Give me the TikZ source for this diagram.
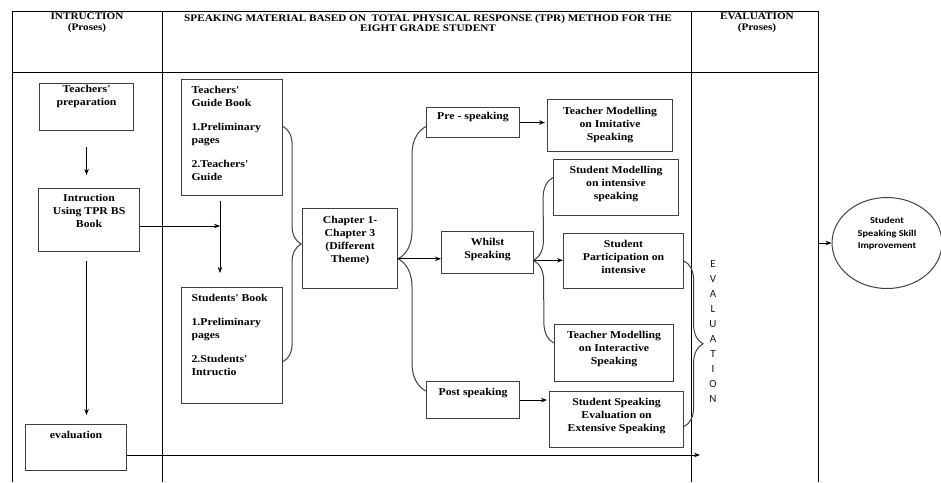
\documentclass[tikz,border=0pt]{standalone}
\usepackage{fontspec}
\usetikzlibrary{arrows.meta,shapes.geometric,decorations.pathreplacing,calc}
\newfontfamily\bodyfont{Liberation Serif}[FakeStretch=1.12]
\newfontfamily\calfont{Carlito}[FakeStretch=1.15]
\newfontfamily\letterfont{Carlito}
\newcommand{\boxtxt}[4][7pt]{\parbox[t][#3][t]{#2}{\centering\vspace*{#1}#4}}

\begin{document}
\begin{tikzpicture}[x=1pt, y=-1pt, >={Stealth[length=6pt,width=4.5pt]},
  box/.style={draw=black!75, line width=1.1pt, inner sep=0pt, anchor=north west,
    font=\bodyfont\fontsize{10.5}{13}\selectfont\bfseries},
  hdr/.style={align=center, font=\bodyfont\fontsize{10}{10.8}\selectfont\bfseries},
  goal/.style={ellipse, draw=black!75, line width=1pt, inner sep=0pt,
    minimum width=110pt, minimum height=91pt,
    font=\calfont\fontsize{9}{12.5}\selectfont\bfseries},
  brc/.style={decorate, decoration={brace, amplitude=#1}, draw=black!75, line width=1pt},
  link/.style={->, line width=0.8pt},
  frame/.style={line width=0.9pt}]
\useasboundingbox (0,0) rectangle (941,482);

\draw[frame] (12,482) -- (12,11) -- (818,11) -- (818,482);
\draw[frame] (12,72) -- (818,72);
\draw[frame] (162,11) -- (162,482);
\draw[frame] (691,11) -- (691,482);

\node[hdr] (hintr) at (87,23) {INTRUCTION\\(Proses)};
\node[hdr] (hmat) at (428,23) {SPEAKING MATERIAL BASED ON\ \ TOTAL PHYSICAL RESPONSE (TPR) METHOD FOR THE\\EIGHT GRADE STUDENT};
\node[hdr] (heval) at (757,23) {EVALUATION\\(Proses)};

\node[box] (prep) at (39,83) {\boxtxt[2pt]{94pt}{47pt}{Teachers'\\preparation}};
\node[box] (intr) at (38,188) {\boxtxt[6pt]{101pt}{63pt}{Intruction\\Using TPR BS\\Book}};
\node[box] (eval) at (25,424) {\boxtxt[6.5pt]{101pt}{46pt}{evaluation}};

\node[box] (guide) at (181,79) {\boxtxt{101pt}{116pt}{\raggedright\leftskip=10pt Teachers'\\Guide Book\\[11pt]1.Preliminary\\pages\\[11pt]2.Teachers'\\Guide}};
\node[box] (stud) at (181,287) {\boxtxt{101pt}{116pt}{\raggedright\leftskip=10pt Students' Book\\[11pt]1.Preliminary\\pages\\[11pt]2.Students'\\Intructio}};
\node[box] (chap) at (302,208) {\boxtxt[8pt]{95pt}{80pt}{Chapter 1-\\Chapter 3\\(Different\\Theme)}};

\node[box] (pre) at (426,107) {\boxtxt[4.5pt]{93pt}{30pt}{Pre - speaking}};
\node[box] (whilst) at (441,231) {\boxtxt{92pt}{42pt}{Whilst\\Speaking}};
\node[box] (post) at (426,381) {\boxtxt{93pt}{37pt}{Post speaking}};

\node[box] (tmi) at (547,99) {\boxtxt[7.5pt]{125pt}{52pt}{Teacher Modelling\\on Imitative\\Speaking}};
\node[box] (smi) at (553,159) {\boxtxt{125pt}{56pt}{Student Modelling\\on intensive\\speaking}};
\node[box] (part) at (563,233) {\boxtxt{120pt}{55pt}{Student\\Participation on\\intensive}};
\node[box] (tmint) at (554,324) {\boxtxt{119pt}{57pt}{Teacher Modelling\\on Interactive\\Speaking}};
\node[box] (sse) at (549,391) {\boxtxt[6.5pt]{134pt}{56pt}{Student Speaking\\Evaluation on\\Extensive Speaking}};

\node[align=center, text=black!90, font=\letterfont\fontsize{11}{15}\selectfont] (evword) at (713,331) {E\\V\\A\\L\\U\\A\\T\\I\\O\\N};
\node[goal] (goal) at (887,243) {\boxtxt[2pt]{76pt}{55pt}{Student\\Speaking Skill\\Improvement}};

\draw[link, shorten <=16pt, shorten >=13pt] (prep.south) -- (prep.south |- intr.north);
\draw[link, shorten <=9pt, shorten >=9pt] (intr.south -| prep.south) -- (eval.north -| prep.south);
\coordinate (jn) at (220,226);
\draw[link] (intr.east |- jn) -- (jn);
\draw[link, shorten <=5pt, shorten >=14pt] (guide.south -| jn) -- (stud.north -| jn);
\coordinate (evend) at (700,455);
\draw[link] (eval.east |- evend) -- (evend);

\draw[brc=18pt] ([yshift=11pt]guide.east) -- ([yshift=-16pt]stud.east);

\coordinate (chtop) at ([yshift=-4pt]pre.west);
\coordinate (chbot) at ([yshift=9pt]post.west);
\draw[brc=28pt] (chbot) -- (chtop);
\coordinate (chtip) at ($(chtop)!0.5!(chbot)+(-28,0)$);
\draw[link] (chtip) -- (chtip -| whilst.west);

\draw[link, shorten >=2pt] (pre.east) -- (pre.east -| tmi.west);
\draw[link, shorten >=2pt] (post.east) -- (post.east -| sse.west);

\coordinate (wtop) at ([yshift=10pt]smi.west);
\coordinate (wbot) at ([yshift=10pt]tmint.west);
\draw[brc=20pt] (wbot) -- (wtop);
\coordinate (wtip) at ($(wtop)!0.5!(wbot)+(-20,0)$);
\draw[link] (wtip) -- (wtip -| part.west);

\draw[brc=19pt] (part.east) -- ([yshift=-7pt]sse.east);

\coordinate (tblr) at (818,243);
\draw[link] (tblr) -- (goal.west);
\end{tikzpicture}
\end{document}
